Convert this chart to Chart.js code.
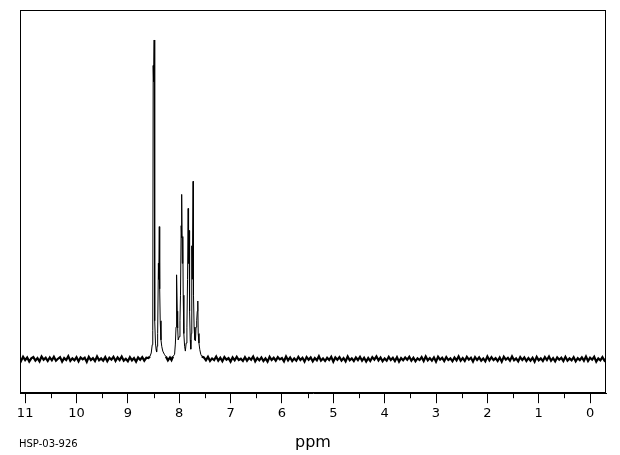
<!DOCTYPE html>
<html>
<head>
<meta charset="utf-8">
<script src="https://cdn.jsdelivr.net/npm/chart.js@4"></script>
<style>
html,body{margin:0;padding:0;background:#fff;}
#wrap{width:620px;height:455px;}
</style>
</head>
<body>
<div id="wrap"><canvas id="c" width="620" height="455"></canvas></div>
<script>
// ---- data ----
const majorTicks = [0,1,2,3,4,5,6,7,8,9,10,11];
const minorTicks = [0.5,1.5,2.5,3.5,4.5,5.5,6.5,7.5,8.5,9.5,10.5];
const sampleId = 'HSP-03-926';
const axisTitle = 'ppm';

// baseline noise (intensity units, max peak = 100), left of the peaks, 11.12 ppm downward every 0.04 ppm
const noiseLeftStart = 11.12;
const noiseStep = 0.04;
const noiseLeft = [0.4,-0.6,0.7,-0.3,0.5,-0.8,0.2,0.6,-0.5,0.3,-0.7,0.8,-0.2,0.4,-0.6,0.5,-0.4,0.7,-0.5,0.1,
0.6,-0.8,0.3,-0.3,0.9,-0.6,0.2,-0.4,0.6,-0.7,0.5,-0.1,0.4,-0.9,0.7,-0.3,0.3,-0.6,0.8,-0.4,
0.2,-0.5,0.6,-0.7,0.4,-0.2,0.7,-0.6,0.5,-0.3,0.8,-0.5,0.1,-0.7,0.6,-0.4,0.3,-0.8,0.5,-0.2,
0.6,-0.5,0.4];

// aromatic multiplets
const peakPpm = [8.60,8.57,8.545,8.525,8.515,8.507,8.499,8.488,8.480,8.474,8.462,8.450,8.440,8.430,8.420,8.405,8.398,8.388,8.380,8.370,
8.355,8.340,8.320,8.290,8.26,8.22,8.18,8.15,8.12,8.09,8.075,8.062,8.056,8.046,8.038,8.030,8.020,8.000,7.985,7.975,
7.962,7.956,7.948,7.940,7.930,7.922,7.910,7.895,7.880,7.865,7.850,7.838,7.826,7.818,7.808,7.798,7.785,7.775,7.765,7.755,
7.745,7.730,7.722,7.710,7.695,7.684,7.672,7.660,7.648,7.638,7.630,7.615,7.600,7.580,7.560];
const peakInt = [0.3,0.8,1.9,4.5,9,92,87,100,40,12,5,3,2.2,4,8,30,25,41.5,22,12,
6,4,2.5,1.5,0.8,-0.4,0.5,-0.3,0.8,1.5,4.7,10,23,26.4,15,9.7,6,7,12,20,
41.8,38,51.6,30,38.4,20,8,4,2.5,5,10,25,47.2,30,40.3,15,6,3.1,8,35.5,
25,55.7,20,10,6,5.7,10,12,15,18.2,8,5,3,1.5,0.8];

// baseline noise right of the peaks, 7.52 ppm downward every 0.04 ppm
const noiseRightStart = 7.52;
const noiseRight = [0.5,-0.4,0.7,-0.6,0.2,-0.3,0.8,-0.5,0.4,-0.7,0.6,-0.2,0.3,-0.8,0.5,-0.4,0.7,-0.3,0.1,-0.6,
0.6,-0.5,0.4,-0.2,0.8,-0.7,0.3,-0.4,0.5,-0.6,0.2,-0.8,0.7,-0.3,0.4,-0.5,0.6,-0.1,0.3,-0.7,
0.8,-0.4,0.5,-0.6,0.2,-0.5,0.7,-0.3,0.4,-0.8,0.6,-0.2,0.5,-0.7,0.3,-0.4,0.9,-0.5,0.2,-0.6,
0.4,-0.3,0.7,-0.8,0.5,-0.2,0.6,-0.5,0.3,-0.7,0.8,-0.4,0.2,-0.6,0.5,-0.3,0.7,-0.5,0.4,-0.8,
0.3,-0.6,0.6,-0.2,0.8,-0.4,0.5,-0.7,0.2,-0.5,0.7,-0.3,0.4,-0.6,0.6,-0.8,0.3,-0.4,0.5,-0.2,
0.7,-0.5,0.4,-0.7,0.2,-0.3,0.6,-0.6,0.8,-0.4,0.3,-0.5,0.5,-0.8,0.7,-0.2,0.4,-0.6,0.6,-0.3,
0.2,-0.7,0.5,-0.4,0.8,-0.5,0.3,-0.6,0.7,-0.2,0.4,-0.8,0.6,-0.3,0.5,-0.5,0.2,-0.7,0.8,-0.4,
0.6,-0.3,0.3,-0.6,0.5,-0.8,0.7,-0.2,0.4,-0.5,0.8,-0.4,0.2,-0.7,0.6,-0.3,0.5,-0.6,0.3,-0.5,
0.4,-0.8,0.7,-0.4,0.2,-0.6,0.6,-0.3,0.8,-0.5,0.3,-0.7,0.5,-0.2,0.4,-0.6,0.7,-0.5,0.2,-0.4,
0.6,-0.7,0.3,-0.3,0.5,-0.5,0.8,-0.6,0.4,-0.2,0.7,-0.8,0.2,-0.4,0.6,-0.5,0.3,-0.7,0.5,-0.3];

// ---- build the trace ----
const trace = [];
noiseLeft.forEach((v,i)=>trace.push({x: +(noiseLeftStart - i*noiseStep).toFixed(3), y: v}));
peakPpm.forEach((p,i)=>trace.push({x: p, y: peakInt[i]}));
noiseRight.forEach((v,i)=>trace.push({x: +(noiseRightStart - i*noiseStep).toFixed(3), y: v}));

const FONT = "'DejaVu Sans', sans-serif";

const framePlugin = {
  id: 'frame',
  afterDraw(chart){
    const {ctx, chartArea:a, scales:{x}} = chart;
    ctx.save();
    ctx.strokeStyle = '#000';
    ctx.lineWidth = 1;
    ctx.strokeRect(Math.round(a.left)+0.5, Math.round(a.top)+0.5, Math.round(a.right-a.left)-1, Math.round(a.bottom-a.top)-1);
    // minor ticks
    ctx.beginPath();
    minorTicks.forEach(v=>{
      const px = Math.round(x.getPixelForValue(v))+0.5;
      ctx.moveTo(px, a.bottom);
      ctx.lineTo(px, a.bottom+5);
    });
    ctx.stroke();
    // sample id
    ctx.fillStyle = '#000';
    ctx.font = '10px ' + FONT;
    ctx.textBaseline = 'alphabetic';
    ctx.fillText(sampleId, 19, 447);
    ctx.restore();
  }
};

const isNoise = ctx => Math.abs(ctx.p0.parsed.y) < 1.2 && Math.abs(ctx.p1.parsed.y) < 1.2;

new Chart(document.getElementById('c'), {
  type: 'line',
  data: {
    datasets: [{
      data: trace,
      borderColor: '#000',
      borderWidth: 1,
      pointRadius: 0,
      tension: 0,
      fill: false,
      segment: { borderWidth: ctx => isNoise(ctx) ? 2.2 : 1 }
    }]
  },
  options: {
    responsive: false,
    animation: false,
    layout: { padding: { left: 20, right: 14, top: 10, bottom: 3 } },
    plugins: { legend: { display: false }, tooltip: { enabled: false } },
    scales: {
      x: {
        type: 'linear',
        reverse: true,
        min: -0.31,
        max: 11.1,
        afterBuildTicks(scale){ scale.ticks = majorTicks.map(v=>({value:v})); },
        ticks: {
          color: '#000',
          font: { family: FONT, size: 13 },
          padding: 3,
          maxRotation: 0,
          autoSkip: false,
          callback: v => String(v)
        },
        grid: { drawOnChartArea: false, color: '#000', tickLength: 10, tickWidth: 1 },
        border: { display: true, color: '#000', width: 1 },
        title: { display: true, text: axisTitle, color: '#000', font: { family: FONT, size: 16 }, padding: { top: 8, bottom: 0 } }
      },
      y: {
        display: false,
        min: -10.7,
        max: 109.4
      }
    }
  },
  plugins: [framePlugin]
});
</script>
</body>
</html>
